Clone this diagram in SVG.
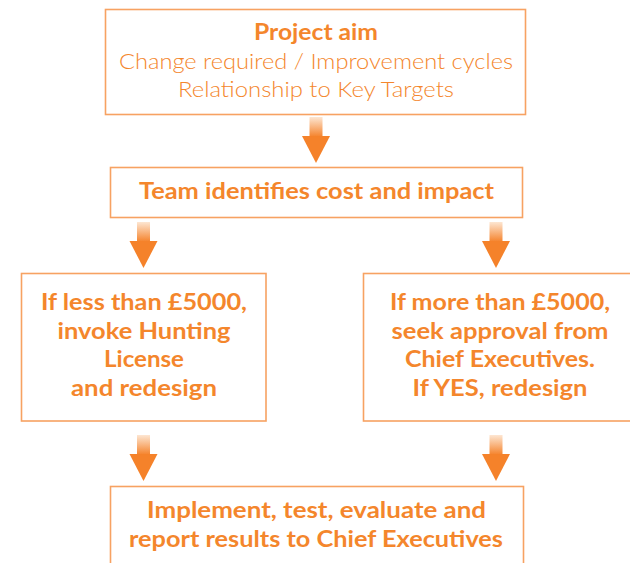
<svg xmlns="http://www.w3.org/2000/svg" xmlns:xlink="http://www.w3.org/1999/xlink" width="630" height="563" viewBox="0 0 630 563">
  <style>
    .box { fill: #ffffff; stroke: #F7A262; stroke-width: 1.6; }
    .t { fill: #F4862C; text-anchor: middle; font-family: Lato, "Open Sans", "Liberation Sans", sans-serif; font-size: 22px; }
    .b { font-weight: 700; }
    .l { font-weight: 300; }
    .head { fill: #F5822A; }
  </style>
  <defs>
    <linearGradient id="stemGrad" x1="0" y1="0" x2="0" y2="1">
      <stop offset="0" stop-color="#FDE6D2"/>
      <stop offset="1" stop-color="#F5822A"/>
    </linearGradient>
    <g id="arrow">
      <rect x="-6.5" y="0" width="13" height="20" fill="url(#stemGrad)"/>
      <path class="head" d="M-14,19 L14,19 L0,46 Z"/>
    </g>
  </defs>
  <rect width="630" height="563" fill="#ffffff"/>

  <g id="connectors">
    <use xlink:href="#arrow" transform="translate(316,117)"/>
    <use xlink:href="#arrow" transform="translate(143.5,222)"/>
    <use xlink:href="#arrow" transform="translate(496,222)"/>
    <use xlink:href="#arrow" transform="translate(143.5,435)"/>
    <use xlink:href="#arrow" transform="translate(496,435)"/>
  </g>

  <g id="project-aim">
    <rect class="box" x="105.5" y="9.5" width="420" height="105"/>
    <text class="t b" x="316" y="40" textLength="124" lengthAdjust="spacingAndGlyphs">Project aim</text>
    <text class="t l" x="316" y="69" textLength="394" lengthAdjust="spacingAndGlyphs">Change required / Improvement cycles</text>
    <text class="t l" x="316" y="97" textLength="276" lengthAdjust="spacingAndGlyphs">Relationship to Key Targets</text>
  </g>

  <g id="team">
    <rect class="box" x="110.5" y="167.5" width="412" height="50"/>
    <text class="t b" x="316.5" y="199" textLength="355" lengthAdjust="spacingAndGlyphs">Team identifies cost and impact</text>
  </g>

  <g id="less-than">
    <rect class="box" x="21.5" y="273.5" width="244.5" height="147.5"/>
    <text class="t b" x="144" y="310" textLength="206" lengthAdjust="spacingAndGlyphs">If less than £5000,</text>
    <text class="t b" x="144" y="339" textLength="173" lengthAdjust="spacingAndGlyphs">invoke Hunting</text>
    <text class="t b" x="144" y="367" textLength="80" lengthAdjust="spacingAndGlyphs">License</text>
    <text class="t b" x="144" y="396" textLength="146" lengthAdjust="spacingAndGlyphs">and redesign</text>
  </g>

  <g id="more-than">
    <rect class="box" x="363.5" y="273.5" width="280" height="147.5"/>
    <text class="t b" x="500" y="310" textLength="220" lengthAdjust="spacingAndGlyphs">If more than £5000,</text>
    <text class="t b" x="500" y="339" textLength="217" lengthAdjust="spacingAndGlyphs">seek approval from</text>
    <text class="t b" x="500" y="367" textLength="190" lengthAdjust="spacingAndGlyphs">Chief Executives.</text>
    <text class="t b" x="500" y="396" textLength="175" lengthAdjust="spacingAndGlyphs">If YES, redesign</text>
  </g>

  <g id="implement">
    <rect class="box" x="110.5" y="486.5" width="413" height="100"/>
    <text class="t b" x="316.5" y="518" textLength="339" lengthAdjust="spacingAndGlyphs">Implement, test, evaluate and</text>
    <text class="t b" x="316" y="547" textLength="374" lengthAdjust="spacingAndGlyphs">report results to Chief Executives</text>
  </g>
</svg>
